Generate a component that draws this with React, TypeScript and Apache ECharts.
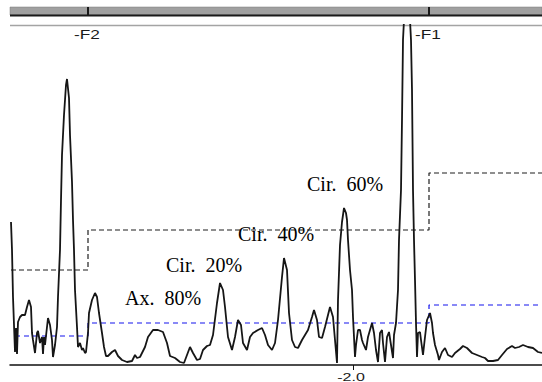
import React, { useEffect, useRef } from "react";
import * as echarts from "echarts";

// Spectrum trace: [frequency, amplitude]
const spectrum: [number, number][] = [
  [-5.42, 143], [-5.41, 115], [-5.40, 68], [-5.39, 40], [-5.38, 13], [-5.37, 37], [-5.36, 11],
  [-5.35, 43], [-5.33, 48], [-5.31, 50], [-5.28, 50], [-5.26, 58], [-5.24, 65], [-5.22, 58],
  [-5.21, 32], [-5.20, 25], [-5.18, 12], [-5.16, 32], [-5.15, 34], [-5.13, 22], [-5.11, 28],
  [-5.10, 11], [-5.09, 28], [-5.08, 20], [-5.06, 38], [-5.05, 47], [-5.03, 40], [-5.01, 25],
  [-5.00, 8], [-4.98, 20], [-4.96, 38], [-4.95, 68], [-4.93, 115], [-4.92, 165], [-4.91, 210],
  [-4.89, 250], [-4.87, 280], [-4.86, 286], [-4.84, 267], [-4.83, 230], [-4.81, 183], [-4.80, 145],
  [-4.79, 115], [-4.78, 75], [-4.76, 38], [-4.75, 18], [-4.73, 22], [-4.71, 15], [-4.70, 17],
  [-4.68, 12], [-4.67, 13], [-4.65, 32], [-4.64, 52], [-4.61, 65], [-4.58, 72], [-4.56, 68],
  [-4.54, 52], [-4.51, 32], [-4.49, 18], [-4.47, 9], [-4.45, 9], [-4.41, 13], [-4.38, 15],
  [-4.35, 9], [-4.31, 5], [-4.26, 3], [-4.21, 4], [-4.18, 10], [-4.16, 7], [-4.13, 8],
  [-4.08, 18], [-4.05, 28], [-4.00, 35], [-3.95, 35], [-3.90, 33], [-3.86, 22], [-3.83, 9],
  [-3.78, 7], [-3.73, 3], [-3.69, 2], [-3.66, 10], [-3.63, 18], [-3.60, 12], [-3.56, 5],
  [-3.53, 6], [-3.50, 15], [-3.46, 19], [-3.43, 20], [-3.40, 30], [-3.36, 62], [-3.33, 82],
  [-3.30, 75], [-3.28, 58], [-3.25, 28], [-3.21, 15], [-3.18, 28], [-3.15, 45], [-3.12, 40],
  [-3.10, 22], [-3.06, 15], [-3.03, 28], [-3.00, 32], [-2.95, 35], [-2.91, 37], [-2.88, 30],
  [-2.85, 20], [-2.81, 15], [-2.78, 22], [-2.75, 45], [-2.71, 88], [-2.69, 107], [-2.66, 95],
  [-2.64, 52], [-2.61, 25], [-2.58, 18], [-2.55, 17], [-2.51, 25], [-2.48, 30], [-2.45, 35],
  [-2.41, 48], [-2.39, 55], [-2.36, 45], [-2.34, 28], [-2.31, 27], [-2.28, 38], [-2.23, 58],
  [-2.20, 48], [-2.18, 25], [-2.16, 2], [-2.15, 65], [-2.13, 120], [-2.11, 143], [-2.09, 157],
  [-2.07, 152], [-2.06, 145], [-2.05, 125], [-2.03, 95], [-2.01, 75], [-2.00, 48], [-1.98, 8],
  [-1.97, 20], [-1.95, 35], [-1.93, 35], [-1.91, 25], [-1.90, 22], [-1.87, 15], [-1.85, 28],
  [-1.81, 42], [-1.79, 32], [-1.77, 15], [-1.75, 3], [-1.73, 32], [-1.71, 35], [-1.70, 22],
  [-1.68, 3], [-1.66, 28], [-1.64, 33], [-1.62, 20], [-1.60, 7], [-1.59, 30], [-1.57, 42],
  [-1.55, 75], [-1.54, 125], [-1.52, 175], [-1.51, 245], [-1.50, 325], [-1.46, 405], [-1.42, 325],
  [-1.41, 275], [-1.40, 175], [-1.39, 125], [-1.38, 85], [-1.37, 42], [-1.36, 8], [-1.35, 32],
  [-1.33, 33], [-1.32, 25], [-1.30, 10], [-1.28, 28], [-1.26, 45], [-1.23, 52], [-1.21, 42],
  [-1.20, 32], [-1.18, 20], [-1.15, 10], [-1.14, 5], [-1.11, 13], [-1.08, 17], [-1.05, 10],
  [-1.01, 8], [-0.98, 12], [-0.93, 16], [-0.90, 19], [-0.86, 17], [-0.81, 12], [-0.76, 10],
  [-0.71, 8], [-0.68, 7], [-0.65, 4], [-0.60, 4], [-0.55, 5], [-0.51, 10], [-0.46, 16],
  [-0.41, 19], [-0.38, 17], [-0.34, 18], [-0.30, 20], [-0.25, 18], [-0.20, 17], [-0.15, 13],
  [-0.11, 12],
];

// Threshold step lines: [frequency where level starts, level]
const blackThreshold: [number, number][] = [[-5.42, 95], [-4.65, 135], [-1.24, 192], [-0.11, 192]];
const blueThreshold: [number, number][] = [[-5.38, 29], [-4.65, 42], [-1.24, 60], [-0.11, 60]];

// Frequency markers
const markerNames = ["-F2", "-F1"];
const markerFreqs = [-4.65, -1.24];

// Annotations
const annotationLabels = ["Ax.\u00a0 80%", "Cir.\u00a0 20%", "Cir.\u00a0 40%", "Cir.\u00a0 60%"];
const annotationX = [-4.28, -3.87, -3.15, -2.46];
const annotationY = [67, 100, 131, 181];

// Axis
const xMin = -5.43;
const xMax = -0.11;
const yMin = 0;
const yMax = 340;
const xTickValues = [-2.0];
const xTickLabels = ["-2.0"];

export default function App() {
  const ref = useRef<HTMLDivElement>(null);

  useEffect(() => {
    if (!ref.current) return;
    const chart = echarts.init(ref.current, null, { renderer: "svg" });
    const gridLeft = 10;
    const gridTop = 25;
    const W = 542;

    chart.setOption({
      animation: false,
      backgroundColor: "#ffffff",
      grid: { left: gridLeft, right: 0, top: gridTop, bottom: 17 },
      xAxis: {
        type: "value",
        min: xMin,
        max: xMax,
        axisLine: { show: true, lineStyle: { color: "#111", width: 1.5 } },
        axisTick: { show: true, customValues: xTickValues, length: 5, lineStyle: { color: "#111", width: 1 } },
        axisLabel: { show: false },
        splitLine: { show: false },
      },
      yAxis: {
        type: "value",
        min: yMin,
        max: yMax,
        show: false,
        splitLine: { show: false },
      },
      series: [
        {
          type: "line",
          data: blackThreshold,
          step: "end",
          showSymbol: false,
          silent: true,
          lineStyle: { color: "#1e1e1e", width: 1.2, type: [5, 3] },
          z: 2,
        },
        {
          type: "line",
          data: blueThreshold,
          step: "end",
          showSymbol: false,
          silent: true,
          lineStyle: { color: "#1414ee", width: 1.2, type: [5, 4] },
          z: 2,
        },
        {
          type: "line",
          data: spectrum,
          showSymbol: false,
          clip: true,
          silent: true,
          lineStyle: { color: "#161616", width: 1.8 },
          z: 3,
        },
      ],
    });

    const toPx = (x: number, y: number) =>
      chart.convertToPixel({ gridIndex: 0 }, [x, y]) as number[];

    const graphics: any[] = [];
    // top grey bar
    graphics.push({
      type: "rect",
      shape: { x: gridLeft, y: 7, width: W - gridLeft, height: 8 },
      style: { fill: "#a0a0a0", stroke: "#7a7a7a", lineWidth: 0.5 },
      silent: true,
    });
    graphics.push({
      type: "line",
      shape: { x1: gridLeft, y1: 15.5, x2: W, y2: 15.5 },
      style: { stroke: "#1a1a1a", lineWidth: 2 },
      silent: true,
    });
    // grey plot top line
    graphics.push({
      type: "line",
      shape: { x1: gridLeft, y1: 25.5, x2: W, y2: 25.5 },
      style: { stroke: "#a4a4a4", lineWidth: 1.5 },
      silent: true,
    });
    markerFreqs.forEach((f, i) => {
      const [px] = toPx(f, 0);
      graphics.push({
        type: "line",
        shape: { x1: px, y1: 7, x2: px, y2: 15.5 },
        style: { stroke: "#1a1a1a", lineWidth: 2 },
        silent: true,
      });
      graphics.push({
        type: "text",
        x: px - 1,
        y: 34.5,
        scaleX: 1.33,
        style: {
          text: markerNames[i],
          x: 0,
          y: 0,
          fill: "#1a1a1a",
          font: '13px "Liberation Sans", Arial, sans-serif',
          textAlign: "center",
          textVerticalAlign: "middle",
        },
        silent: true,
      });
    });
    xTickValues.forEach((v, i) => {
      const [px, py] = toPx(v, yMin);
      graphics.push({
        type: "text",
        x: px - 2,
        y: py + 12.5,
        scaleX: 1.6,
        style: {
          text: xTickLabels[i],
          x: 0,
          y: 0,
          fill: "#1a1a1a",
          font: '10px "Liberation Sans", Arial, sans-serif',
          textAlign: "center",
          textVerticalAlign: "middle",
        },
        silent: true,
      });
    });
    annotationLabels.forEach((t, i) => {
      const [px, py] = toPx(annotationX[i], annotationY[i]);
      graphics.push({
        type: "text",
        x: px,
        y: py,
        style: {
          text: t,
          x: 0,
          y: 0,
          fill: "#000",
          font: '20px "Liberation Serif", "Times New Roman", serif',
          textAlign: "left",
          textVerticalAlign: "middle",
        },
        silent: true,
        z: 10,
      });
    });
    chart.setOption({ graphic: graphics });

    return () => chart.dispose();
  }, []);

  return (
    <div
      ref={ref}
      style={{ position: "absolute", left: 0, top: 0, width: 542, height: 382 }}
    />
  );
}
